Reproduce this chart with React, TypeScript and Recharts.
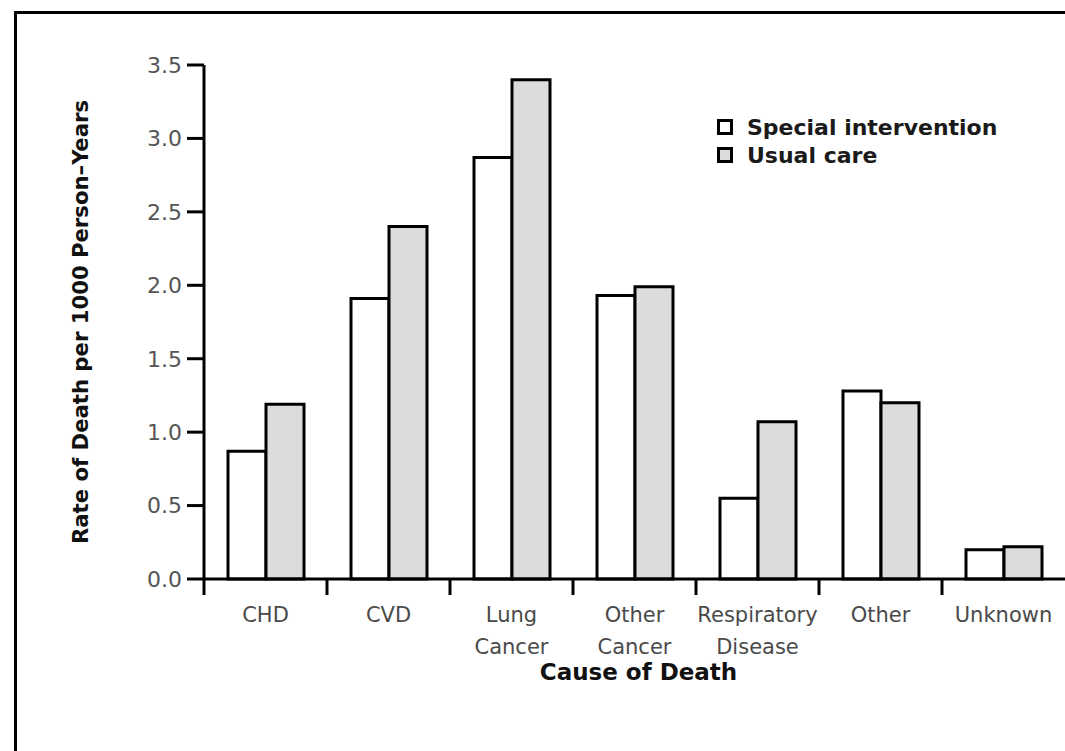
import React from 'react';
import { BarChart, Bar, XAxis, YAxis, Legend } from 'recharts';

// --- data ---
const categories = ['CHD', 'CVD', 'Lung Cancer', 'Other Cancer', 'Respiratory Disease', 'Other', 'Unknown'];
const specialIntervention = [0.87, 1.91, 2.87, 1.93, 0.55, 1.28, 0.2];
const usualCare = [1.19, 2.4, 3.4, 1.99, 1.07, 1.2, 0.22];
const yTicks = [0, 0.5, 1.0, 1.5, 2.0, 2.5, 3.0, 3.5];

const data = categories.map((cat, i) => ({
  cat,
  special: specialIntervention[i],
  usual: usualCare[i],
}));

// layout
const W = 1065;
const H = 751;
const MARGIN = { top: 65, right: 0, bottom: 0, left: 0 };
const Y_AXIS_W = 204;
const X_AXIS_H = 172;
const PLOT_BOTTOM = H - MARGIN.bottom - X_AXIS_H;
const BAND = (W - MARGIN.right - Y_AXIS_W) / categories.length;

const LABEL_FONT = "'DejaVu Sans', Verdana, sans-serif";
const GRAY = '#dcdcdc';

// category tick: label (wrapped) + boundary tick at the left edge of the band
const CategoryTick = (props: any) => {
  const { x, payload } = props;
  const lines = String(payload.value).split(' ');
  const left = x - BAND / 2;
  return (
    <g>
      <line x1={left} y1={PLOT_BOTTOM} x2={left} y2={PLOT_BOTTOM + 16} stroke="#000" strokeWidth={3} />
      <text x={x} y={PLOT_BOTTOM + 43} textAnchor="middle" fontFamily={LABEL_FONT} fontSize={21} fill="#4a4a4a">
        {lines.map((l, i) => (
          <tspan key={i} x={x} dy={i === 0 ? 0 : 32}>{l}</tspan>
        ))}
      </text>
    </g>
  );
};

const LegendBox = (props: any) => {
  const { payload } = props;
  return (
    <div>
      {(payload || []).map((entry: any, i: number) => (
        <div key={i} style={{ display: 'flex', alignItems: 'center', height: 28 }}>
          <span
            style={{
              display: 'inline-block',
              width: 10,
              height: 10,
              border: '3px solid #000',
              background: entry.payload?.fill || entry.color,
              marginRight: 14,
            }}
          />
          <span style={{ fontFamily: LABEL_FONT, fontWeight: 'bold', fontSize: 22, color: '#1a1a1a' }}>{entry.value}</span>
        </div>
      ))}
    </div>
  );
};

export default function App() {
  return (
    <div style={{ position: 'absolute', left: 0, top: 0, width: W, height: H, background: '#fff', overflow: 'hidden' }}>
      {/* frame */}
      <div
        style={{
          position: 'absolute',
          left: 14,
          top: 11,
          width: W - 14,
          height: H - 11,
          borderLeft: '3px solid #000',
          borderTop: '3px solid #000',
          boxSizing: 'border-box',
        }}
      />
      <div style={{ position: 'absolute', left: 0, top: 0 }}>
        <BarChart width={W} height={H} data={data} margin={MARGIN} barGap={0} barCategoryGap="19%">
          <XAxis
            dataKey="cat"
            height={X_AXIS_H}
            interval={0}
            axisLine={{ stroke: '#000', strokeWidth: 3 }}
            tickLine={false}
            tick={<CategoryTick />}
            label={{
              content: (p: any) => {
                const vb = p.viewBox;
                return (
                  <text
                    x={vb.x + vb.width / 2 + 4}
                    y={vb.y + 101}
                    textAnchor="middle"
                    fontFamily={LABEL_FONT}
                    fontWeight="bold"
                    fontSize={23}
                    fill="#111"
                  >
                    Cause of Death
                  </text>
                );
              },
            }}
          />
          <YAxis
            width={Y_AXIS_W}
            domain={[0, 3.5]}
            ticks={yTicks}
            interval={0}
            tickFormatter={(v: number) => v.toFixed(1)}
            axisLine={{ stroke: '#000', strokeWidth: 3 }}
            tickLine={{ stroke: '#000', strokeWidth: 3 }}
            tickSize={17}
            tickMargin={5}
            tick={{ fontFamily: LABEL_FONT, fontSize: 22, fill: '#555' }}
            label={{
              content: (p: any) => {
                const vb = p.viewBox;
                const cx = 80;
                const cy = vb.y + vb.height / 2;
                return (
                  <text
                    x={cx}
                    y={cy}
                    transform={`rotate(-90 ${cx} ${cy})`}
                    textAnchor="middle"
                    dominantBaseline="central"
                    fontFamily="'Liberation Sans Narrow', 'DejaVu Sans Condensed', Arial, sans-serif"
                    fontWeight="bold"
                    fontSize={22}
                    fill="#111"
                    textLength={444}
                    lengthAdjust="spacingAndGlyphs"
                  >
                    Rate of Death per 1000 Person–Years
                  </text>
                );
              },
            }}
          />
          <Legend
            layout="horizontal"
            verticalAlign="middle"
            align="center"
            content={<LegendBox />}
            wrapperStyle={{ left: 717, top: 113, width: 340, height: 60 }}
          />
          <Bar dataKey="special" name="Special intervention" barSize={38} fill="#fff" stroke="#000" strokeWidth={3} isAnimationActive={false} />
          <Bar dataKey="usual" name="Usual care" barSize={38} fill={GRAY} stroke="#000" strokeWidth={3} isAnimationActive={false} />
        </BarChart>
      </div>
    </div>
  );
}
